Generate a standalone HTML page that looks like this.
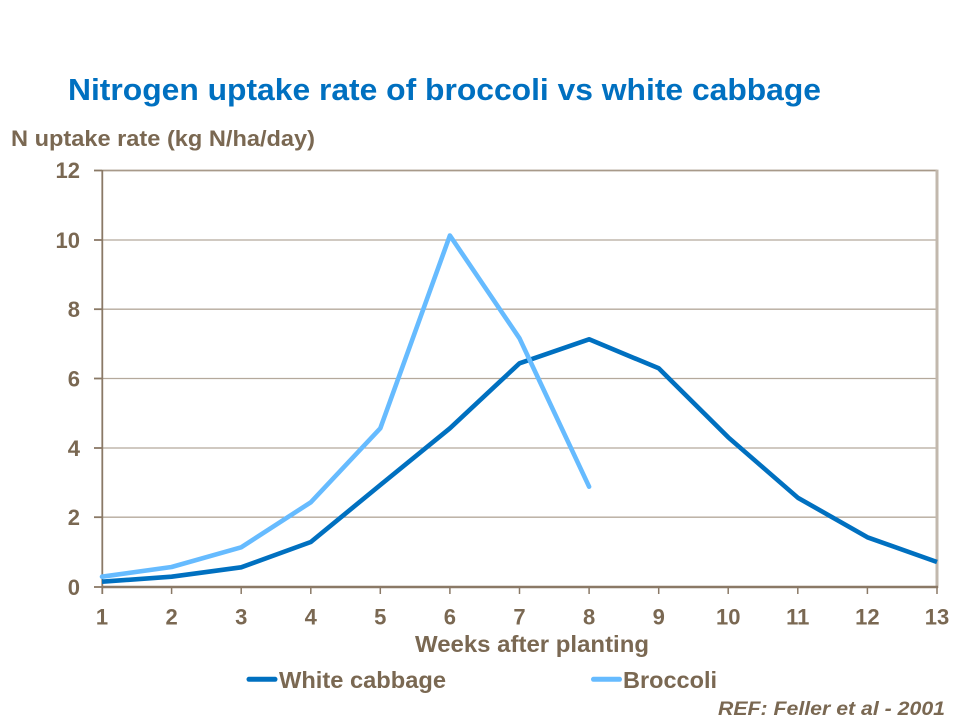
<!DOCTYPE html>
<html>
<head>
<meta charset="utf-8">
<style>
  html,body{margin:0;padding:0;background:#ffffff;}
  svg{display:block;}
  text{font-family:"Liberation Sans", Arial, sans-serif;font-weight:bold;}
</style>
</head>
<body>
<svg width="960" height="720" viewBox="0 0 960 720" xmlns="http://www.w3.org/2000/svg">
  <rect width="960" height="720" fill="#ffffff"/>

  <!-- Title -->
  <text x="68" y="100" font-size="31" fill="#0070c0" textLength="753" lengthAdjust="spacingAndGlyphs">Nitrogen uptake rate of broccoli vs white cabbage</text>

  <!-- Y axis title -->
  <text x="11" y="146" font-size="22.5" fill="#7a6852" textLength="304" lengthAdjust="spacingAndGlyphs">N uptake rate (kg N/ha/day)</text>

  <!-- Gridlines -->
  <g stroke="#b4a99c" stroke-width="1.3">
    <line x1="102" y1="240" x2="937" y2="240"/>
    <line x1="102" y1="309.2" x2="937" y2="309.2"/>
    <line x1="102" y1="378.5" x2="937" y2="378.5"/>
    <line x1="102" y1="448" x2="937" y2="448"/>
    <line x1="102" y1="517.2" x2="937" y2="517.2"/>
  </g>
  <!-- top border -->
  <line x1="102" y1="170.5" x2="937" y2="170.5" stroke="#a89a8a" stroke-width="1.8"/>
  <!-- right border -->
  <line x1="937" y1="169.6" x2="937" y2="588" stroke="#c2b8ad" stroke-width="3"/>

  <!-- Left axis and ticks -->
  <g stroke="#8a7966" stroke-width="1.8">
    <line x1="102.3" y1="170" x2="102.3" y2="594"/>
    <line x1="94" y1="170.5" x2="102" y2="170.5"/>
    <line x1="94" y1="240" x2="102" y2="240"/>
    <line x1="94" y1="309.2" x2="102" y2="309.2"/>
    <line x1="94" y1="378.5" x2="102" y2="378.5"/>
    <line x1="94" y1="448" x2="102" y2="448"/>
    <line x1="94" y1="517.2" x2="102" y2="517.2"/>
    <line x1="94" y1="587" x2="102" y2="587"/>
  </g>
  <!-- Bottom axis and ticks -->
  <line x1="102" y1="587" x2="938" y2="587" stroke="#8a7966" stroke-width="2.4"/>
  <g stroke="#8a7966" stroke-width="1.5">
    <line x1="171.6" y1="587" x2="171.6" y2="594"/>
    <line x1="241.2" y1="587" x2="241.2" y2="594"/>
    <line x1="310.8" y1="587" x2="310.8" y2="594"/>
    <line x1="380.3" y1="587" x2="380.3" y2="594"/>
    <line x1="449.9" y1="587" x2="449.9" y2="594"/>
    <line x1="519.5" y1="587" x2="519.5" y2="594"/>
    <line x1="589.1" y1="587" x2="589.1" y2="594"/>
    <line x1="658.7" y1="587" x2="658.7" y2="594"/>
    <line x1="728.2" y1="587" x2="728.2" y2="594"/>
    <line x1="797.8" y1="587" x2="797.8" y2="594"/>
    <line x1="867.4" y1="587" x2="867.4" y2="594"/>
    <line x1="937" y1="587" x2="937" y2="594"/>
  </g>

  <!-- Y tick labels -->
  <g font-size="22" fill="#7a6852" text-anchor="end">
    <text x="80" y="178">12</text>
    <text x="80" y="247.8">10</text>
    <text x="80" y="317">8</text>
    <text x="80" y="386.3">6</text>
    <text x="80" y="455.8">4</text>
    <text x="80" y="525">2</text>
    <text x="80" y="594.8">0</text>
  </g>

  <!-- X tick labels -->
  <g font-size="22" fill="#7a6852" text-anchor="middle">
    <text x="102" y="624.5">1</text>
    <text x="171.6" y="624.5">2</text>
    <text x="241.2" y="624.5">3</text>
    <text x="310.8" y="624.5">4</text>
    <text x="380.3" y="624.5">5</text>
    <text x="449.9" y="624.5">6</text>
    <text x="519.5" y="624.5">7</text>
    <text x="589.1" y="624.5">8</text>
    <text x="658.7" y="624.5">9</text>
    <text x="728.2" y="624.5">10</text>
    <text x="797.8" y="624.5">11</text>
    <text x="867.4" y="624.5">12</text>
    <text x="937" y="624.5">13</text>
  </g>

  <!-- X axis title -->
  <text x="415" y="652" font-size="23.5" fill="#7a6852" textLength="234" lengthAdjust="spacingAndGlyphs">Weeks after planting</text>

  <!-- Series: White cabbage -->
  <polyline fill="none" stroke="#0070c0" stroke-width="4.6" stroke-linejoin="round" stroke-linecap="butt"
    points="102,581.7 171.6,576.7 241.2,567.3 310.8,542 380.3,485 449.9,428.3 519.5,363.3 589.1,339.3 658.7,368.3 728.2,437.3 797.8,497.7 867.4,537.3 937,562"/>
  <!-- Series: Broccoli -->
  <polyline fill="none" stroke="#66bbff" stroke-width="4.6" stroke-linejoin="round" stroke-linecap="round"
    points="102,576.7 171.6,567 241.2,547.3 310.8,502.3 380.3,428.3 449.9,235.5 519.5,338.3 589.1,486.7"/>

  <!-- Legend -->
  <line x1="249" y1="679.3" x2="275" y2="679.3" stroke="#0070c0" stroke-width="5" stroke-linecap="round"/>
  <text x="279" y="688" font-size="23.5" fill="#7a6852" textLength="167" lengthAdjust="spacingAndGlyphs">White cabbage</text>
  <line x1="593.5" y1="679.3" x2="619.5" y2="679.3" stroke="#66bbff" stroke-width="5" stroke-linecap="round"/>
  <text x="623" y="688" font-size="23.5" fill="#7a6852" textLength="94" lengthAdjust="spacingAndGlyphs">Broccoli</text>

  <!-- Reference -->
  <text x="718" y="715" font-size="19.5" font-style="italic" fill="#7a6852" textLength="227" lengthAdjust="spacingAndGlyphs">REF: Feller et al - 2001</text>
</svg>
</body>
</html>
